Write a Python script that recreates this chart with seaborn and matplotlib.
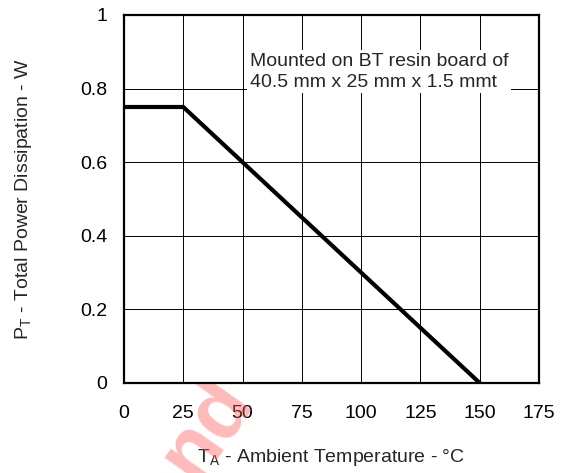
import matplotlib
matplotlib.use("Agg")
import matplotlib.pyplot as plt
from matplotlib.transforms import Bbox, TransformedBbox
import seaborn as sns
import pandas as pd

# derating curve
ambient_temp = [0, 25, 150]
power_w = [0.75, 0.75, 0.0]

x_ticks = [0, 25, 50, 75, 100, 125, 150, 175]
y_ticks = [0, 0.2, 0.4, 0.6, 0.8, 1]
y_tick_labels = ["0", "0.2", "0.4", "0.6", "0.8", "1"]

note = "Mounted on BT resin board of\n40.5 mm x 25 mm x 1.5 mmt"

sns.set_style("white")
plt.rcParams["font.family"] = ["Liberation Sans", "DejaVu Sans"]
plt.rcParams["mathtext.fontset"] = "custom"
plt.rcParams["mathtext.rm"] = "Liberation Sans"

df = pd.DataFrame({"temp": ambient_temp, "power": power_w})

fig = plt.figure(figsize=(5.63, 4.73), dpi=100)
ax = fig.add_axes([0.2202, 0.1903, 0.7372, 0.7780])

sns.lineplot(data=df, x="temp", y="power", color="black", linewidth=3,
             ax=ax, zorder=3, sort=False)

ax.set_xlim(0, 175)
ax.set_ylim(0, 1)
ax.set_xticks(x_ticks)
ax.set_xticklabels([str(t) for t in x_ticks])
ax.set_yticks(y_ticks)
ax.set_yticklabels(y_tick_labels)
ax.tick_params(axis="both", length=0, labelsize=14, colors="black")
ax.tick_params(axis="x", pad=16)
ax.tick_params(axis="y", pad=12)

ax.grid(True, color="black", linewidth=0.7)
for s in ax.spines.values():
    s.set_visible(True)
    s.set_color("black")
    s.set_linewidth(1.6)

ax.set_xlabel(r"T$_{\mathrm{A}}$ - Ambient Temperature - °C", fontsize=14, labelpad=18)
ax.set_ylabel(r"P$_{\mathrm{T}}$ - Total Power Dissipation - W", fontsize=14, labelpad=33)

ax.text(53, 0.846, note, fontsize=14, ha="left", va="center", linespacing=1.3,
        zorder=4, bbox=dict(facecolor="white", edgecolor="none", pad=2))

# faint watermark fragment, only visible below the plot area
wm = fig.text(0.365, 0.095, "nd", fontsize=60, fontweight="bold", color="#ff5a5a",
              alpha=0.42, rotation=55, ha="center", va="center", zorder=5)
wm.set_clip_box(TransformedBbox(Bbox([[0, 0], [1, 0.188]]), fig.transFigure))
wm.set_clip_on(True)

fig.savefig("out.png", dpi=100)
